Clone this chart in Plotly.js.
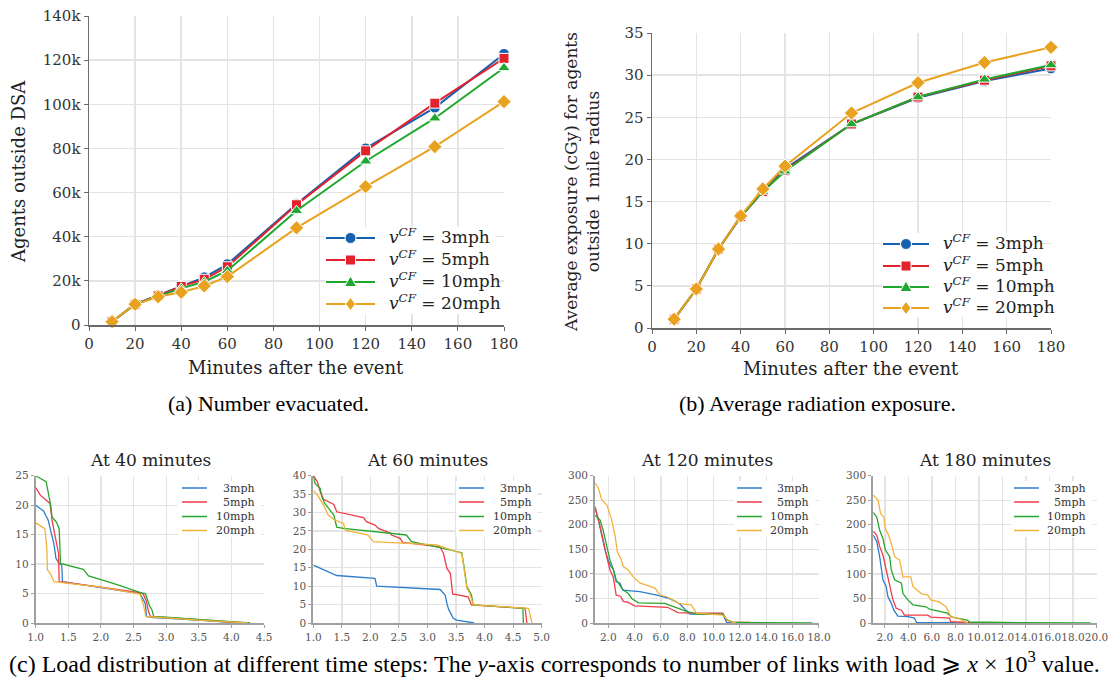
<!DOCTYPE html>
<html><head><meta charset="utf-8">
<script src="https://cdn.plot.ly/plotly-3.0.1.min.js"></script>
<style>html,body{margin:0;padding:0;background:#fff}</style>
</head><body><div id="chart" style="width:1108px;height:679px"></div>
<script>
// ---------- Data ----------
const minutes = [10,20,30,40,50,60,90,120,150,180];
const speedLabels = ['3mph','5mph','10mph','20mph'];

// (a) Number evacuated
const evac3  = [1500,9400,13500,17700,21600,27500,54800,80000,98500,122800];
const evac5  = [1500,9400,13200,17500,20700,26400,54500,78900,100500,120800];
const evac10 = [1500,9400,13000,16600,19600,24600,51800,74200,93700,116500];
const evac20 = [1500,9400,12800,14800,17700,21900,44000,62700,80800,101200];

// (b) Average exposure
const expo3  = [1.05,4.63,9.37,13.2,16.2,18.9,24.2,27.3,29.3,30.8];
const expo5  = [1.05,4.63,9.37,13.2,16.2,18.7,24.2,27.4,29.4,31.1];
const expo10 = [1.05,4.63,9.37,13.2,16.2,18.6,24.2,27.4,29.5,31.2];
const expo20 = [1.05,4.63,9.37,13.3,16.5,19.2,25.5,29.1,31.5,33.3];

// (c) Load distribution at 40 minutes
const l40_3x  = [1.0,1.12,1.19,1.25,1.28,1.31,1.36,1.40,1.41,2.0,2.60,2.68,2.70,2.8,3.5,4.1];
const l40_3y  = [20,19,17.5,14.4,13.4,11,10.1,9.8,7,6,5,3.3,1.1,0.9,0.5,0];
const l40_5x  = [1.0,1.07,1.22,1.25,1.30,1.35,1.36,2.0,2.62,2.65,2.70,2.73,2.76,3.5,4.2];
const l40_5y  = [23,21.7,20.3,17.5,14.6,11.8,7.0,6.1,5.1,4.9,3.6,1.9,1.1,0.5,0];
const l40_10x = [1.0,1.16,1.23,1.25,1.32,1.36,1.38,1.73,1.81,2.2,2.62,2.68,2.75,2.78,2.81,3.5,4.29];
const l40_10y = [25,24,20,18,17.1,16,10.1,9.1,8,6.7,5.1,5,2.8,2.3,1.1,0.6,0];
const l40_20x = [1.0,1.14,1.17,1.18,1.23,1.28,2.0,2.60,2.65,2.69,3.5,4.25];
const l40_20y = [17,16,12.9,9,8.3,7,6.1,4.9,3.1,1.1,0.5,0];

// at 60 minutes
const l60_3x  = [1.0,1.18,1.41,2.08,2.11,3.22,3.31,3.34,3.37,3.42,3.45,3.51,3.82];
const l60_3y  = [15.7,14.4,12.9,12.1,10,9.1,7.6,5.3,3.7,2.2,1.3,0.8,0];
const l60_5x  = [1.0,1.07,1.12,1.18,1.36,1.41,1.88,1.93,2.08,2.14,2.34,2.37,2.52,2.57,2.72,3.22,3.28,3.31,3.34,3.40,3.42,3.44,3.71,3.77,4.71,4.74];
const l60_5y  = [40,38.4,35.7,33.6,32.2,30.2,28.6,27.5,26.6,25.7,24.5,23.9,23,21.8,21.6,20.7,18.9,16.7,14.8,13.5,10.3,7.9,7.1,4.9,4.0,0];
const l60_10x = [1.0,1.03,1.12,1.15,1.20,1.29,1.36,1.41,1.53,2.63,2.72,3.16,3.60,3.64,3.69,3.77,3.80,4.67,4.68];
const l60_10y = [40,37.9,36.6,34.3,32.5,30.7,29.3,26,25.7,23.9,22.1,20.7,19.1,15.3,9.9,7.6,4.9,4.0,0];
const l60_20x = [1.0,1.09,1.18,1.26,1.36,1.53,1.56,1.96,2.05,3.16,3.60,3.63,3.69,3.74,3.77,3.80,4.77,4.83];
const l60_20y = [36,34.3,32,29.3,28.1,27,25.2,23.9,22.1,21.2,18.9,15.3,9.4,8.1,6.7,4.9,4.0,0];

// at 120 minutes
const l120_3x  = [1.0,1.25,1.5,1.75,2.0,2.2,2.4,2.6,2.9,3.1,4.4,5.7,6.6,7.1,7.5,8.0,8.2,10.7,11.0,11.5];
const l120_3y  = [233,210,179,149,128,115,108,84,81,67,64,57,50,44,37,23,18,18,1,0];
const l120_5x  = [1.0,1.25,1.5,1.88,2.13,2.38,2.6,2.95,3.14,3.52,4.0,6.5,7.3,8.2,10.7,11.0,11.5,12.8];
const l120_5y  = [237,210,183,135,108,94,57,54,44,42,35,32,21,20,20,6,1,1];
const l120_10x = [1.0,1.37,1.6,1.9,2.13,2.4,2.6,2.95,3.15,3.52,3.78,4.3,6.3,6.8,7.5,8.0,8.7,10.7,11.0,11.5,17.5];
const l120_10y = [219,210,190,156,128,108,88,74,67,60,50,41,40,35,28,23,18,18,7,1,0];
const l120_20x = [1.0,1.25,1.5,1.9,2.26,2.51,2.69,2.94,3.14,3.52,3.9,4.41,4.9,5.55,5.93,6.4,6.9,7.3,8.3,8.7,10.7,11.2,11.7];
const l120_20y = [285,275,251,240,210,179,145,132,115,108,94,81,77,71,57,54,47,40,37,20,16,3,0];

// at 180 minutes
const l180_3x  = [1.0,1.3,1.55,1.7,1.83,2.11,2.25,2.54,2.76,3.1,3.95,4.5,4.7,9.0];
const l180_3y  = [179,166,135,111,88,74,54,40,26,14,13,10,1,0];
const l180_5x  = [1.0,1.3,1.55,1.83,2.11,2.4,2.68,2.96,3.4,3.67,5.65,5.9,7.5,7.6,9.0,12.0];
const l180_5y  = [187,179,156,138,108,74,47,30,26,16,16,12,10,3,1,0];
const l180_10x = [1.0,1.3,1.55,1.83,2.03,2.4,2.54,2.82,3.4,3.53,3.95,4.38,5.5,5.8,7.3,7.7,9.0,9.2,12.0,19.5];
const l180_10y = [225,216,189,172,149,135,108,88,81,60,47,37,33,28,20,12,6,2,1,0];
const l180_20x = [1.0,1.42,1.63,1.9,2.03,2.3,2.54,2.82,3.25,3.53,4.2,4.38,5.1,5.65,5.9,6.6,7.2,7.6,8.2,8.8,9.05];
const l180_20y = [261,250,223,216,193,179,162,135,128,94,94,74,60,57,47,43,33,13,10,3,0];

const evacTicks = [0,20000,40000,60000,80000,100000,120000,140000];
const evacTickText = ['0','20k','40k','60k','80k','100k','120k','140k'];
const panelTitles = ['At 40 minutes','At 60 minutes','At 120 minutes','At 180 minutes'];

// ---------- Styling ----------
const topColors = ['#1660b0','#e2222c','#1fa82e','#e9a21f'];
const botColors = ['#2e7dcc','#ee3d47','#27a62d','#f2b33a'];
const symbols = ['circle','square','triangle-up','diamond'];
const CM = 'DejaVu Serif, serif';
const TIMES = 'Liberation Serif, Times New Roman, serif';
const H = 679, W = 1108;
const py = v => 1 - v / H, px = v => v / W;

const topSeries = [[evac3,evac5,evac10,evac20],[expo3,expo5,expo10,expo20]];
const traces = [];
for (let p = 0; p < 2; p++) {
  for (let s = 0; s < 4; s++) {
    traces.push({
      x: minutes, y: topSeries[p][s], type:'scatter', mode:'lines+markers',
      xaxis: p === 0 ? 'x' : 'x2', yaxis: p === 0 ? 'y' : 'y2', cliponaxis:false,
      name: speedLabels[s], showlegend:false,
      line:{color: topColors[s], width:2},
      marker:{symbol: symbols[s], size: s === 1 ? 10 : 11, color: topColors[s], line:{color:'#ffffff', width:1}}
    });
  }
}
const botData = [
  [[l40_3x,l40_3y],[l40_5x,l40_5y],[l40_10x,l40_10y],[l40_20x,l40_20y]],
  [[l60_3x,l60_3y],[l60_5x,l60_5y],[l60_10x,l60_10y],[l60_20x,l60_20y]],
  [[l120_3x,l120_3y],[l120_5x,l120_5y],[l120_10x,l120_10y],[l120_20x,l120_20y]],
  [[l180_3x,l180_3y],[l180_5x,l180_5y],[l180_10x,l180_10y],[l180_20x,l180_20y]]
];
for (let p = 0; p < 4; p++) {
  for (let s = 0; s < 4; s++) {
    traces.push({
      x: botData[p][s][0], y: botData[p][s][1], type:'scatter', mode:'lines',
      xaxis:'x' + (p + 3), yaxis:'y' + (p + 3), cliponaxis:false, showlegend:false,
      name: speedLabels[s], line:{color: botColors[s], width:1.3}
    });
  }
}

function topAxis(extra) {
  return Object.assign({
    showgrid:true, gridcolor:'#e4e4e4', gridwidth:1.5, zeroline:false, tickangle:0,
    showline:true, linecolor:'#6a6a6a', linewidth:1.5, ticks:'outside', ticklen:4, tickcolor:'#6a6a6a',
    tickfont:{family:CM, size:15, color:'#333'}, fixedrange:true
  }, extra);
}
function botAxis(extra) {
  return Object.assign({
    showgrid:true, gridcolor:'#e4e4e4', gridwidth:1.3, zeroline:false, tickangle:0,
    showline:true, linecolor:'#a0a0a0', linewidth:2, ticks:'outside', ticklen:3, tickcolor:'#a0a0a0',
    tickfont:{family:CM, size:10.5, color:'#555'}, fixedrange:true, ticklabeloverflow:'allow'
  }, extra);
}
const cDom = [py(623), py(475.7)];

const ann = (text, x, y, size, extra) => Object.assign({
  text, x: px(x), y: py(y), xref:'paper', yref:'paper', showarrow:false,
  xanchor:'center', yanchor:'middle', font:{family:CM, size, color:'#222'}
}, extra || {});

// ---------- Legends (drawn as shapes + text) ----------
const shapes = [];
const annotations = [];
function markerShape(sym, cx, cy, color) {
  const base = {xref:'paper', yref:'paper', xsizemode:'pixel', ysizemode:'pixel',
    xanchor:px(cx), yanchor:py(cy), fillcolor:color, line:{color:'#ffffff', width:1}, layer:'above'};
  if (sym === 'circle') return Object.assign(base, {type:'circle', x0:-5.5, x1:5.5, y0:-5.5, y1:5.5});
  if (sym === 'square') return Object.assign(base, {type:'rect', x0:-5, x1:5, y0:-5, y1:5});
  if (sym === 'triangle-up') return Object.assign(base, {type:'path', path:'M-6,-4.5 L6,-4.5 L0,6 Z'});
  return Object.assign(base, {type:'path', path:'M0,-6.5 L5,0 L0,6.5 L-5,0 Z'});
}
function topLegend(box, lx0, lx1, ys, tx) {
  shapes.push({type:'rect', xref:'paper', yref:'paper', x0:px(box[0]), x1:px(box[1]), y0:py(box[3]), y1:py(box[2]),
    fillcolor:'#ffffff', line:{width:0}, layer:'above'});
  for (let s = 0; s < 4; s++) {
    shapes.push({type:'line', xref:'paper', yref:'paper', x0:px(lx0), x1:px(lx1), y0:py(ys[s]), y1:py(ys[s]),
      line:{color:topColors[s], width:2}, layer:'above'});
    shapes.push(markerShape(symbols[s], (lx0 + lx1) / 2, ys[s], topColors[s]));
    annotations.push(ann('<i>v</i><sup><i>CF</i></sup> = ' + speedLabels[s], tx, ys[s] - 2, 17,
      {xanchor:'left', font:{family:CM, size:17, color:'#222'}}));
  }
}
function botLegend(box, lx0, lx1, ys, tx) {
  shapes.push({type:'rect', xref:'paper', yref:'paper', x0:px(box[0]), x1:px(box[1]), y0:py(box[3]), y1:py(box[2]),
    fillcolor:'#ffffff', line:{width:0}, layer:'above'});
  for (let s = 0; s < 4; s++) {
    shapes.push({type:'line', xref:'paper', yref:'paper', x0:px(lx0), x1:px(lx1), y0:py(ys[s]), y1:py(ys[s]),
      line:{color:botColors[s], width:1.5}, layer:'above'});
    annotations.push(ann(speedLabels[s], tx, ys[s], 11, {xanchor:'right', font:{family:CM, size:11, color:'#333'}}));
  }
}
topLegend([325, 495, 227, 314], 326, 375, [238, 260, 282, 304], 387);
topLegend([882, 1042, 233, 317], 883, 929, [244, 266, 287, 308], 941);
const botYs = [488, 502, 516.5, 530.5];
botLegend([178, 261, 481, 537], 182, 207, botYs, 257);
botLegend([456, 537, 481, 537], 459, 484, botYs, 534);
botLegend([734, 815, 481, 537], 737, 762, botYs, 811);
botLegend([1011, 1092, 481, 537], 1014, 1039, botYs, 1088);

annotations.push(
  ann('Agents outside DSA', 18, 172, 18, {textangle:-90}),
  ann('Minutes after the event', 296, 367, 18),
  ann('Average exposure (cGy) for agents<br>outside 1 mile radius', 582, 182, 17, {textangle:-90}),
  ann('Minutes after the event', 851, 368, 18),
  ann('(a) Number evacuated.', 268, 403, 22, {font:{family:TIMES, size:22, color:'#000'}}),
  ann('(b) Average radiation exposure.', 817, 403, 22, {font:{family:TIMES, size:22, color:'#000'}}),
  ann(panelTitles[0], 150, 460, 17),
  ann(panelTitles[1], 427, 460, 17),
  ann(panelTitles[2], 707, 460, 17),
  ann(panelTitles[3], 985, 460, 17),
  ann('(c) Load distribution at different time steps: The <i>y</i>-axis corresponds to number of links with load \u2A7E <i>x</i> \u00D7 10<sup>3</sup> value.', 554, 662, 24, {font:{family:TIMES, size:24, color:'#000'}})
);

const layout = {
  width: W, height: H, margin:{l:0,r:0,t:0,b:0},
  paper_bgcolor:'#ffffff', plot_bgcolor:'#ffffff',
  font:{family:CM, color:'#333'}, showlegend:false,
  xaxis: topAxis({domain:[px(89), px(504)], anchor:'y', range:[0,180], tickvals:[0,20,40,60,80,100,120,140,160,180]}),
  yaxis: topAxis({domain:[py(325), py(16)], anchor:'x', range:[0,140000], tickvals:evacTicks, ticktext:evacTickText}),
  xaxis2: topAxis({domain:[px(652), px(1051)], anchor:'y2', range:[0,180], tickvals:[0,20,40,60,80,100,120,140,160,180]}),
  yaxis2: topAxis({domain:[py(328), py(33)], anchor:'x2', range:[0,35], dtick:5}),
  xaxis3: botAxis({domain:[px(35.7), px(264)], anchor:'y3', range:[1,4.5], dtick:0.5, tick0:1, tickformat:'.1f'}),
  yaxis3: botAxis({domain:cDom, anchor:'x3', range:[0,25], dtick:5}),
  xaxis4: botAxis({domain:[px(313.3), px(541.7)], anchor:'y4', range:[1,5], dtick:0.5, tick0:1, tickformat:'.1f'}),
  yaxis4: botAxis({domain:cDom, anchor:'x4', range:[0,40], dtick:5}),
  xaxis5: botAxis({domain:[px(595.1), px(819)], anchor:'y5', range:[1,18.01], dtick:2, tick0:0, tickformat:'.1f'}),
  yaxis5: botAxis({domain:cDom, anchor:'x5', range:[0,300], dtick:50}),
  xaxis6: botAxis({domain:[px(873.2), px(1096.7)], anchor:'y6', range:[1,20.02], dtick:2, tick0:0, tickformat:'.1f'}),
  yaxis6: botAxis({domain:cDom, anchor:'x6', range:[0,300], dtick:50}),
  shapes, annotations
};

Plotly.newPlot('chart', traces, layout, {displayModeBar:false, staticPlot:true});
</script>
</body></html>
